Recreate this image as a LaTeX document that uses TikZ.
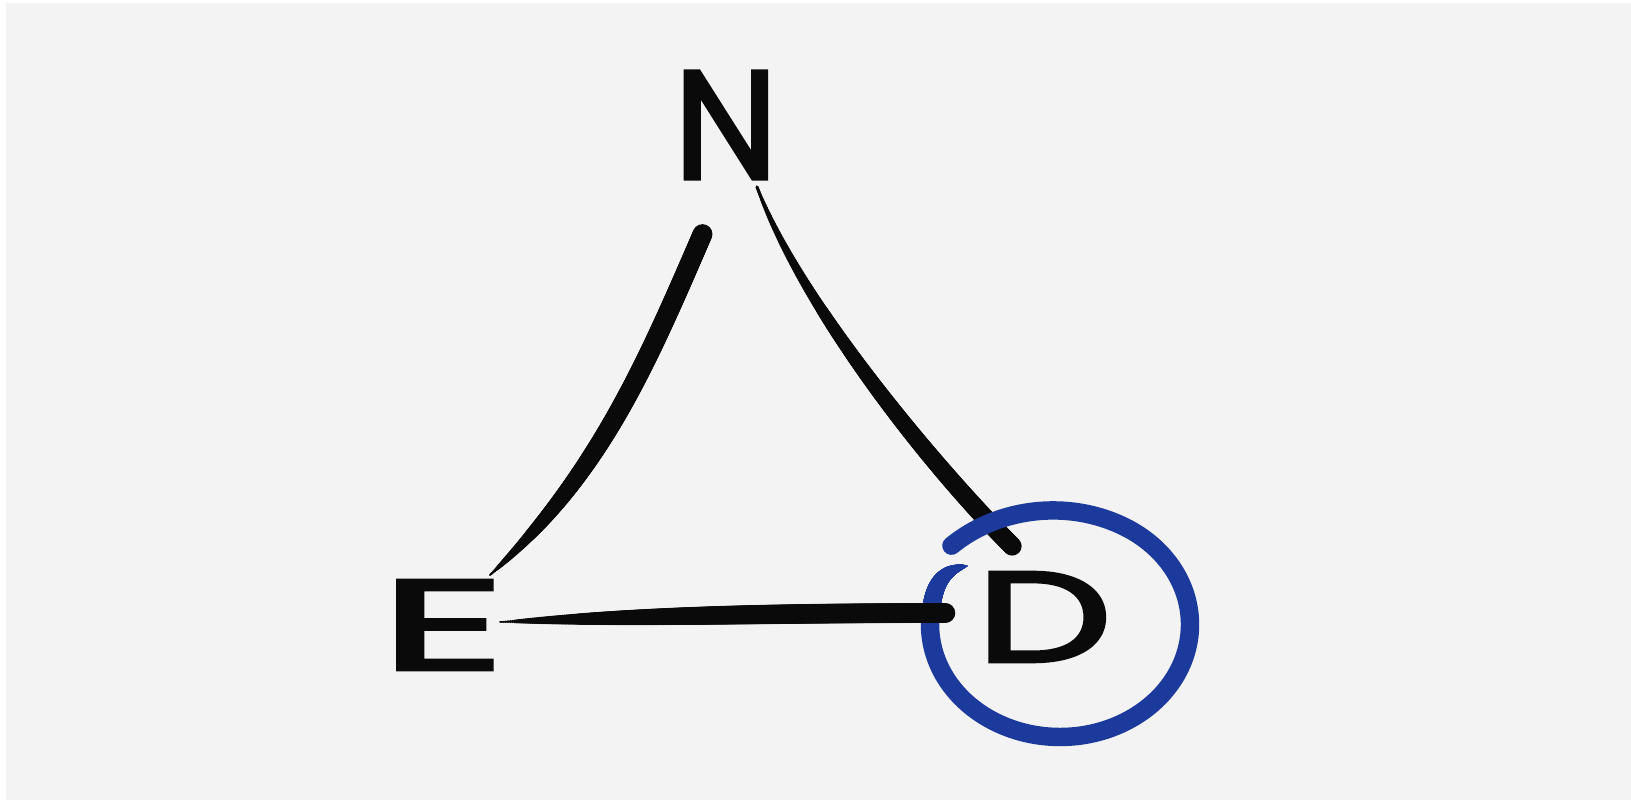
\documentclass[tikz,border=0pt]{standalone}
\usepackage{fontspec}
\newfontfamily\handfont{Poppins}[FakeBold=2.5]
\usetikzlibrary{calc,decorations.markings}
\definecolor{ink}{RGB}{10,10,10}
\definecolor{ringblue}{RGB}{28,58,155}
\definecolor{paper}{RGB}{243,243,243}

\begin{document}
\begin{tikzpicture}[
    x=0.02cm, y=0.02cm,
    declare function={ringr(\t)=1+0.09*(max(0,(\t-60)/80))^2;},
    letter/.style={text=ink, inner sep=0pt, transform shape,
      font=\handfont\fontsize{73}{73}\selectfont},
    pen/.style n args={3}{draw, line width=#1*0.567pt, line cap=round,
      postaction={decorate, decoration={markings,
        mark=between positions 0 and 1 step 0.004 with {
          \pgfmathsetmacro\tpos{(\pgfkeysvalueof{/pgf/decoration/mark info/sequence number}-1)*0.004}
          \pgfmathsetmacro\trad{0.2835*(#2-(#2-#1)*abs(1-\tpos)^#3)}
          \fill circle (\trad pt);}}}},
    ring/.style={draw=ringblue, line width=10.5pt, line cap=round},
  ]
  \useasboundingbox (0,0) rectangle (1631,800);
  \fill[white] (0,0) rectangle (1631,800);
  \fill[paper] (6,0) rectangle (1631,797);

  % letters
  \node[letter, xscale=1.15, yscale=1.2] (N) at (726,675) {N};
  \node[letter, xscale=1.9] (E) at (443,175) {E};
  \node[letter, xscale=1.5] (D) at (1044,183) {D};

  % line ends
  \coordinate (N-left) at ($(N)+(-23,-108)$);
  \coordinate (N-right) at ($(N)+(31,-62)$);
  \coordinate (E-top) at ($(E)+(47,50)$);
  \coordinate (E-right) at ($(E)+(57,3)$);
  \coordinate (D-top) at ($(D)+(-31,70)$);
  \coordinate (D-left) at ($(D)+(-97,4)$);

  \draw[pen={2}{20}{5}, color=ink] (E-top) .. controls +(110,100) and +(-55,-127) .. (N-left);
  \draw[pen={3}{19}{2}, color=ink] (N-right) .. controls +(45,-120) and +(-80,80) .. (D-top);

  % circle round D
  \coordinate (ring-tip) at (967,234);
  \coordinate (ring-join) at (930.5,185.3);
  \draw[ring] plot[domain=140:-185, samples=90, smooth, variable=\t]
    ({1060+130*ringr(\t)*cos(\t)}, {175.5+112.5*ringr(\t)*sin(\t)});
  \draw[pen={1.5}{18}{3}, color=ringblue] (ring-tip) .. controls +(-25,-4) and +(3,30) .. (ring-join);

  \draw[pen={1.5}{20}{4}, color=ink] (E-right) .. controls +(150,6) and +(-150,0) .. (D-left);
\end{tikzpicture}
\end{document}
